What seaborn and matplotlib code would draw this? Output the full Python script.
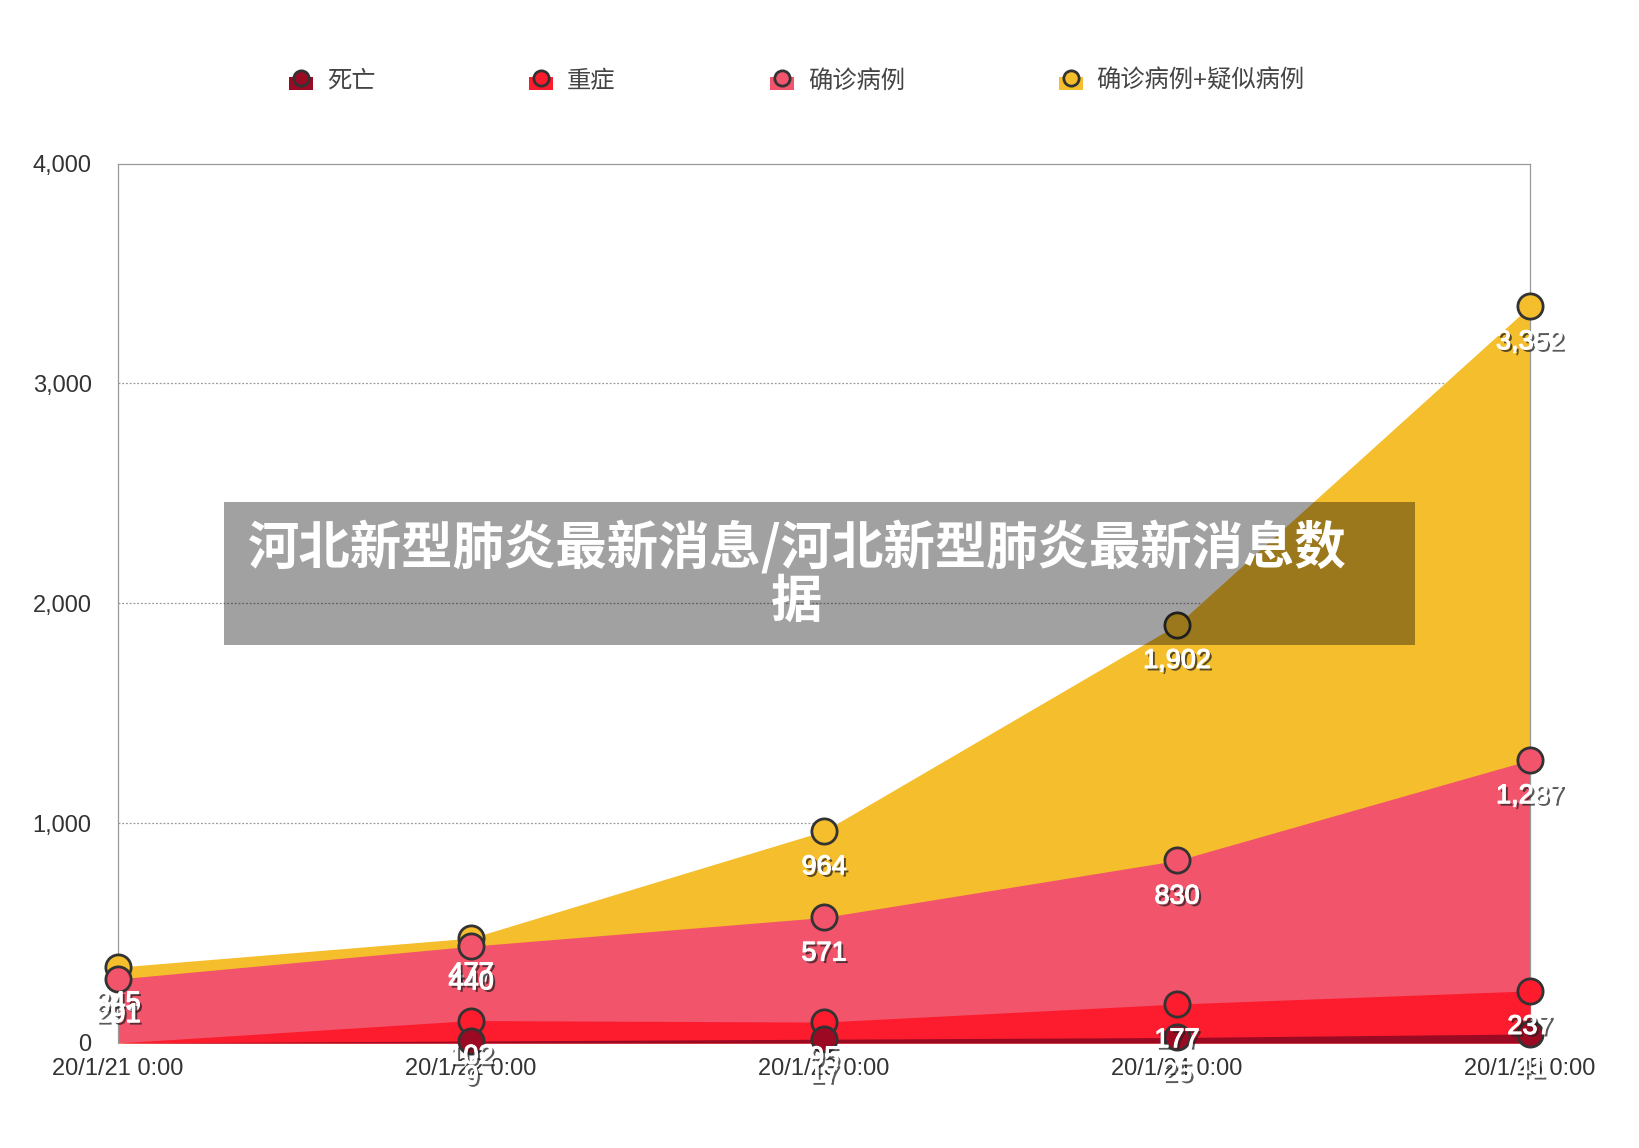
import numpy as np
import pandas as pd
import matplotlib
matplotlib.use("Agg")
import matplotlib.pyplot as plt
import matplotlib.patheffects as pe
from matplotlib.patches import Rectangle
from matplotlib.lines import Line2D
import seaborn as sns

sns.set_style("white")
plt.rcParams['font.family'] = ['Liberation Sans', 'Noto Sans CJK SC', 'DejaVu Sans']

#=======================
dates = ['20/1/21 0:00', '20/1/22 0:00', '20/1/23 0:00', '20/1/24 0:00', '20/1/25 0:00']
deaths = [np.nan, 9, 17, 25, 41]
severe = [np.nan, 102, 95, 177, 237]
confirmed = [291, 440, 571, 830, 1287]
confirmed_suspected = [345, 477, 964, 1902, 3352]
names = ['死亡', '重症', '确诊病例', '确诊病例+疑似病例']
colors = ['#9B0A22', '#FC1C2D', '#F2546B', '#F4BE2C']
yticks = [0, 1000, 2000, 3000, 4000]
title = '河北新型肺炎最新消息/河北新型肺炎最新消息数\n据'
#========================

df = pd.DataFrame({'x': range(len(dates)),
                   names[0]: deaths, names[1]: severe,
                   names[2]: confirmed, names[3]: confirmed_suspected})

fig = plt.figure(figsize=(16.4, 11.48), dpi=100)
ax = fig.add_axes([0.072, 0.0915, 0.861, 0.766])

# areas, largest in the back
for i in [3, 2, 1, 0]:
    ax.fill_between(df['x'], 0, df[names[i]].fillna(0), color=colors[i], lw=0, zorder=1 + (3 - i))

# markers
for i in [3, 2, 1, 0]:
    sns.scatterplot(data=df, x='x', y=names[i], ax=ax, s=330, color=colors[i],
                    edgecolor='#333333', linewidth=2, zorder=10 + (3 - i), clip_on=False, legend=False)

# data labels
fx = [pe.withSimplePatchShadow(offset=(1.8, -1.8), shadow_rgbFace='#222222', alpha=0.75),
      pe.Stroke(linewidth=0.8, foreground='white'), pe.Normal()]
for i in [3, 2, 1, 0]:
    for xv, yv in zip(df['x'], df[names[i]]):
        if np.isnan(yv):
            continue
        ax.annotate(f'{int(yv):,}', (xv, yv), xytext=(0, -26), textcoords='offset points',
                    ha='center', va='center', fontsize=19.5, color='white',
                    path_effects=fx, zorder=30, annotation_clip=False)

ax.set_xlim(0, len(dates) - 1)
ax.set_ylim(0, 4000)
ax.set_yticks(yticks)
ax.set_yticklabels([f'{v:,}' for v in yticks], fontsize=17, color='#333333')
ax.set_xticks(df['x'])
ax.set_xticklabels(dates, fontsize=17, color='#333333')
ax.tick_params(axis='y', length=0, pad=19)
ax.tick_params(axis='x', length=0, pad=11)
ax.set_xlabel('')
ax.set_ylabel('')
for v in yticks[1:-1]:
    ax.axhline(v, color='#999999', lw=0.9, ls=(0, (1.5, 1.5)), zorder=0.5)
for s in ['left', 'right', 'top']:
    ax.spines[s].set_color('#999999')
    ax.spines[s].set_linewidth(0.9)
ax.spines['bottom'].set_visible(False)

# legend
leg_x = [0.1837, 0.330, 0.477, 0.653]
for i in range(4):
    x0 = leg_x[i]
    fig.add_artist(Rectangle((x0 - 0.0073, 0.922), 0.0146, 0.0105, transform=fig.transFigure,
                             color=colors[i], lw=0))
    fig.add_artist(Line2D([x0], [0.932], marker='o', markersize=11, color=colors[i],
                          markeredgecolor='#333333', markeredgewidth=2, transform=fig.transFigure))
    fig.text(x0 + 0.0155, 0.929, names[i], fontsize=17.5, color='#444444', va='center', ha='left')

# overlay banner
fig.add_artist(Rectangle((0.1365, 0.438), 0.7265, 0.125, transform=fig.transFigure,
                         color='black', alpha=0.37, lw=0, zorder=50))
fig.text(0.486, 0.5, title, fontsize=37, color='white', fontweight='black',
         ha='center', va='center', linespacing=1.0, zorder=51,
         family=['Noto Sans CJK SC', 'DejaVu Sans'])

plt.savefig('out.png', dpi=100)
